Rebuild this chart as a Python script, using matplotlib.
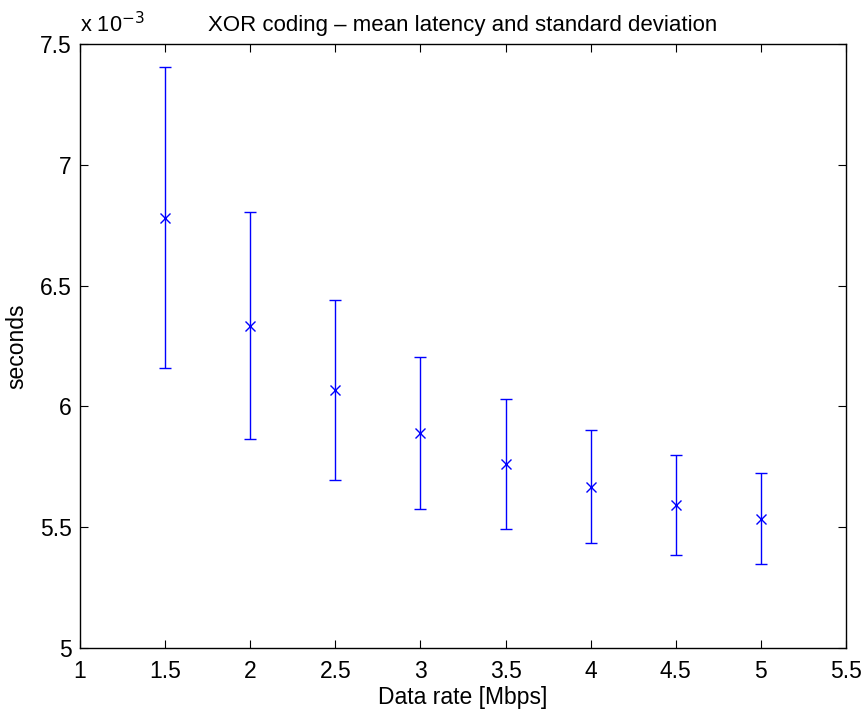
import matplotlib
matplotlib.use("Agg")
import matplotlib.pyplot as plt
from matplotlib.ticker import FuncFormatter

plt.rcParams['font.family'] = ['Liberation Sans', 'DejaVu Sans']

# Data rate [Mbps]
data_rate = [1.5, 2.0, 2.5, 3.0, 3.5, 4.0, 4.5, 5.0]
# Mean latency [s]
mean_latency = [6.780e-3, 6.334e-3, 6.069e-3, 5.890e-3, 5.762e-3, 5.667e-3, 5.591e-3, 5.536e-3]
# Standard deviation [s]
std_latency = [0.623e-3, 0.469e-3, 0.373e-3, 0.313e-3, 0.268e-3, 0.234e-3, 0.206e-3, 0.187e-3]

x_ticks = [1, 1.5, 2, 2.5, 3, 3.5, 4, 4.5, 5, 5.5]
y_ticks = [5.0e-3, 5.5e-3, 6.0e-3, 6.5e-3, 7.0e-3, 7.5e-3]

fig = plt.figure(figsize=(8.62, 7.13), dpi=100)
ax = fig.add_axes([80 / 862, 65 / 713, 766 / 862, 604 / 713])

ax.errorbar(data_rate, mean_latency, yerr=std_latency, fmt='x', color='#0000ff',
            ecolor='#0000ff', elinewidth=1.0, capsize=4.3, capthick=1.0,
            markersize=7, markeredgewidth=1.0)

ax.set_xlim(1, 5.5)
ax.set_ylim(5.0e-3, 7.5e-3)
ax.set_xticks(x_ticks)
ax.set_yticks(y_ticks)
ax.xaxis.set_major_formatter(FuncFormatter(lambda v, p: f"{v:g}"))
ax.yaxis.set_major_formatter(FuncFormatter(lambda v, p: f"{round(v * 1e3, 3):g}"))

ax.tick_params(direction='in', length=5.5, width=0.8, top=True, right=True,
               labelsize=16.5, colors='black')
ax.tick_params(axis='x', pad=9)
ax.tick_params(axis='y', pad=6)
for s in ax.spines.values():
    s.set_linewidth(1.0)
    s.set_color('black')

ax.text(0.0, 1.012, r"x 10$^{-3}$", transform=ax.transAxes, fontsize=15.7,
        ha='left', va='bottom')
ax.set_title("XOR coding \u2013 mean latency and standard deviation", fontsize=16, pad=9.5)
ax.set_xlabel("Data rate [Mbps]", fontsize=16.5, labelpad=2)
ax.set_ylabel("seconds", fontsize=16.5, labelpad=8)

fig.savefig("out.png", dpi=100)
